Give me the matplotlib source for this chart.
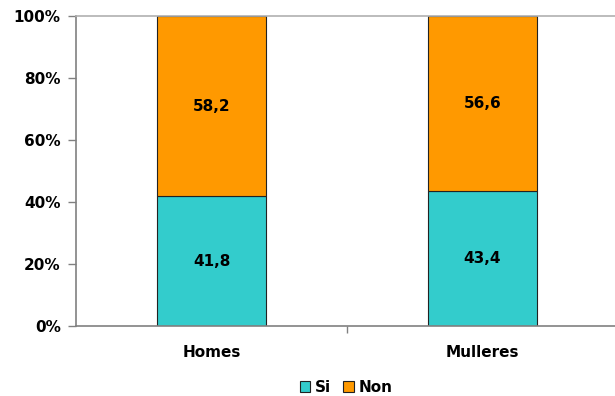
import matplotlib
matplotlib.use("Agg")
import matplotlib.pyplot as plt
from matplotlib.ticker import FixedLocator, FuncFormatter

categories = ["Homes", "Mulleres"]
si_values = [41.8, 43.4]
non_values = [58.2, 56.6]
series_names = ["Si", "Non"]
colors = ["#33CCCC", "#FF9900"]

plt.rcParams['font.family'] = ['DejaVu Sans']
plt.rcParams['font.weight'] = 'bold'

fig = plt.figure(figsize=(6.15, 3.96), dpi=100)
ax = fig.add_axes([76/615, 70/396, 542/615, 310/396])

x = list(range(len(categories)))
w = 0.40
b1 = ax.bar(x, si_values, width=w, color=colors[0], edgecolor="#222222", linewidth=0.8, label=series_names[0])
b2 = ax.bar(x, non_values, width=w, bottom=si_values, color=colors[1], edgecolor="#222222", linewidth=0.8, label=series_names[1])

for rects, vals, bottoms in ((b1, si_values, [0, 0]), (b2, non_values, si_values)):
    for r, v, b in zip(rects, vals, bottoms):
        ax.text(r.get_x() + r.get_width() / 2, b + v / 2, f"{v:.1f}".replace(".", ","),
                ha="center", va="center", fontsize=11, fontweight="bold", color="black")

ax.set_xlim(-0.5, 1.5)
ax.set_ylim(0, 100)
ax.set_yticks([0, 20, 40, 60, 80, 100])
ax.yaxis.set_major_formatter(FuncFormatter(lambda v, p: f"{int(v)}%"))
ax.set_xticks(x)
ax.set_xticklabels(categories)
ax.xaxis.set_minor_locator(FixedLocator([0.5]))
ax.tick_params(axis='x', which='major', length=0, pad=14, labelsize=11)
ax.tick_params(axis='x', which='minor', length=5, color="#808080", width=1)
ax.tick_params(axis='y', length=6, color="#808080", width=1, labelsize=11, pad=5)
for lab in ax.get_xticklabels() + ax.get_yticklabels():
    lab.set_fontweight("bold")

for s in ("right",):
    ax.spines[s].set_visible(False)
ax.spines["top"].set_color("#B0B0B0")
ax.spines["left"].set_color("#808080")
ax.spines["bottom"].set_color("#808080")
ax.spines["left"].set_linewidth(1.2)
ax.spines["bottom"].set_linewidth(1.2)
ax.spines["top"].set_linewidth(1.2)

leg = fig.legend(handles=[b1, b2], labels=series_names, loc="center", bbox_to_anchor=(346/615, 1 - 387/396),
                 ncol=2, frameon=False, fontsize=11, handlelength=0.7, handleheight=0.7,
                 handletextpad=0.3, columnspacing=0.8)
for t in leg.get_texts():
    t.set_fontweight("bold")

fig.savefig("out.png", dpi=100)
